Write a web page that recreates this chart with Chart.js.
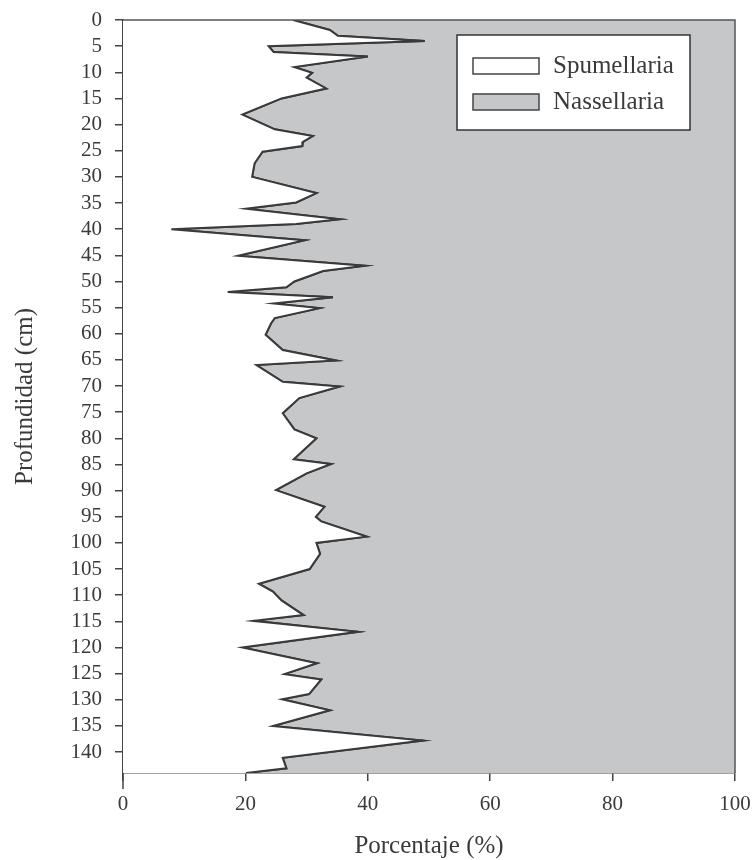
<!DOCTYPE html>
<html>
<head>
<meta charset="utf-8">
<script src="https://cdn.jsdelivr.net/npm/chart.js@4.4.1/dist/chart.umd.min.js"></script>
<style>
  html, body { margin: 0; padding: 0; background: #ffffff; }
  #wrap { width: 753px; height: 860px; }
</style>
</head>
<body>
<div id="wrap"><canvas id="c" width="753" height="860"></canvas></div>
<script>
// Depth (cm) of each sample
const depthCm = [0, 1.9, 3.0, 4.0, 5.0, 6.1, 7.0, 9.0, 10.1, 11.0, 13.1, 15.0, 18.1, 20.9, 22.2, 23.3, 24.1, 25.2, 27.4, 30.0,
  33.1, 34.9, 36.1, 38.1, 39.0, 40.0, 42.1, 45.1, 47.0, 48.0, 50.0, 51.1, 52.0, 53.0, 54.2, 55.1, 57.0, 58.0, 60.2, 63.1,
  65.1, 66.0, 69.2, 70.1, 72.3, 75.2, 78.3, 80.0, 84.0, 84.9, 86.7, 89.9, 93.1, 95.0, 95.9, 98.8, 100.0, 102.1, 105.0, 107.8,
  109.3, 111.0, 113.8, 114.9, 117.0, 120.0, 123.0, 125.1, 126.1, 128.9, 129.9, 132.0, 135.0, 137.8, 141.1, 143.1, 144];
// Spumellaria percentage (boundary between white and grey areas)
const spumellariaPct = [27.8, 33.8, 35.1, 49.3, 23.8, 24.6, 40.0, 28.0, 30.9, 30.0, 33.2, 25.9, 19.5, 24.8, 31.0, 29.4, 29.3, 22.8, 21.5, 21.1,
  31.6, 28.3, 20.1, 35.4, 28.3, 7.9, 29.7, 18.8, 39.5, 32.7, 28.0, 26.7, 17.1, 34.3, 24.6, 32.1, 24.8, 24.2, 23.3, 26.1,
  34.8, 21.8, 26.1, 35.4, 28.8, 26.1, 28.0, 31.6, 27.9, 34.0, 30.0, 25.0, 32.9, 31.5, 32.4, 39.8, 31.6, 32.2, 30.5, 22.2,
  24.5, 25.9, 29.5, 21.3, 38.4, 19.5, 31.7, 26.4, 32.4, 30.4, 26.0, 33.8, 24.5, 49.0, 26.1, 26.7, 20.1];
const seriesNames = ['Spumellaria', 'Nassellaria'];
const xTickValues = [0, 20, 40, 60, 80, 100];
const yTickStep = 5;
const xTitle = 'Porcentaje (%)';
const yTitle = 'Profundidad (cm)';

const GREY = '#c6c7c8';
const LINE = '#3a3a3a';
const TEXT = '#3a3a3a';
const FONT = "'Liberation Serif', 'Times New Roman', serif";

const boundary = depthCm.map((d, i) => ({ x: spumellariaPct[i], y: d }));

const framePlugin = {
  id: 'frame',
  afterDatasetsDraw(chart) {
    const { ctx, chartArea: a } = chart;
    ctx.save();
    ctx.strokeStyle = '#555';
    ctx.lineWidth = 1.5;
    ctx.beginPath();
    ctx.moveTo(a.left, a.top);
    ctx.lineTo(a.right, a.top);
    ctx.lineTo(a.right, a.bottom);
    ctx.stroke();
    ctx.strokeStyle = '#444';
    ctx.beginPath();
    ctx.moveTo(a.left, a.bottom);
    ctx.lineTo(a.left, a.bottom + 16);
    ctx.stroke();
    ctx.restore();
  }
};

const legendPlugin = {
  id: 'boxLegend',
  afterDraw(chart) {
    const { ctx } = chart;
    const bx = 457, by = 35, bw = 233, bh = 95;
    ctx.save();
    ctx.fillStyle = '#ffffff';
    ctx.fillRect(bx, by, bw, bh);
    ctx.strokeStyle = '#333';
    ctx.lineWidth = 1.5;
    ctx.strokeRect(bx, by, bw, bh);
    ctx.font = '25px ' + FONT;
    ctx.textBaseline = 'middle';
    ctx.textAlign = 'left';
    chart.data.datasets.forEach((ds, i) => {
      const cy = 66 + i * 36;
      ctx.fillStyle = ds.backgroundColor;
      ctx.fillRect(473, cy - 8, 66, 16);
      ctx.strokeStyle = '#444';
      ctx.lineWidth = 1.5;
      ctx.strokeRect(473, cy - 8, 66, 16);
      ctx.fillStyle = TEXT;
      ctx.fillText(ds.label, 553, cy);
    });
    ctx.restore();
  }
};

new Chart(document.getElementById('c'), {
  type: 'line',
  data: {
    datasets: [
      {
        label: seriesNames[0],
        data: boundary,
        fill: { value: 0 },
        backgroundColor: '#ffffff',
        borderColor: LINE,
        borderWidth: 2,
        pointRadius: 0,
        tension: 0,
        order: 1
      },
      {
        label: seriesNames[1],
        data: boundary,
        fill: { value: 100 },
        backgroundColor: GREY,
        borderColor: LINE,
        borderWidth: 2,
        pointRadius: 0,
        tension: 0,
        order: 2
      }
    ]
  },
  options: {
    indexAxis: 'y',
    responsive: false,
    animation: false,
    devicePixelRatio: 1,
    layout: { padding: { left: 0, right: 18, top: 20, bottom: 0 } },
    plugins: { legend: { display: false }, tooltip: { enabled: false } },
    scales: {
      x: {
        type: 'linear',
        position: 'bottom',
        min: 0,
        max: 100,
        afterBuildTicks(scale) { scale.ticks = xTickValues.map(v => ({ value: v })); },
        afterFit(scale) { scale.height = 87; scale.paddingLeft = 0; scale.paddingRight = 0; },
        ticks: { color: TEXT, font: { family: FONT, size: 21 }, padding: 11, maxRotation: 0, autoSkip: false },
        grid: { drawOnChartArea: false, drawTicks: true, tickLength: 8, color: '#444', lineWidth: 1.5 },
        border: { display: true, color: '#444', width: 1.5 },
        title: { display: true, text: xTitle, color: TEXT, font: { family: FONT, size: 25, lineHeight: 1.1 }, padding: { top: 0, bottom: 0 } }
      },
      y: {
        type: 'linear',
        position: 'left',
        reverse: true,
        min: 0,
        max: 144,
        afterFit(scale) { scale.width = 123; scale.paddingTop = 0; scale.paddingBottom = 0; },
        ticks: { stepSize: yTickStep, includeBounds: false, autoSkip: false, color: TEXT, font: { family: FONT, size: 21 }, padding: 13 },
        grid: { drawOnChartArea: false, drawTicks: true, tickLength: 8, color: '#444', lineWidth: 1.5 },
        border: { display: true, color: '#444', width: 1.5 },
        title: { display: true, text: yTitle, color: TEXT, font: { family: FONT, size: 25, lineHeight: 1.2 }, padding: { top: 10, bottom: 0 } }
      }
    }
  },
  plugins: [framePlugin, legendPlugin]
});
</script>
</body>
</html>
